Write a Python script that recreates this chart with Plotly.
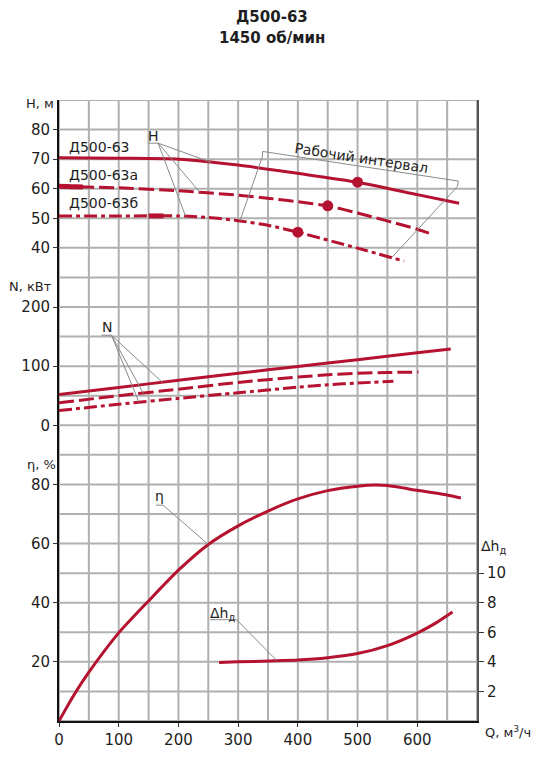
import numpy as np
import plotly.graph_objects as go

# ---------------- data ----------------
Q_H1 = [0, 100, 200, 300, 400, 500, 600, 670]
H1 = [70.5, 70.3, 70.0, 68.0, 65.2, 62.2, 58.0, 55.1]
Q_H2 = [0, 100, 200, 300, 353, 400, 450, 500, 600, 626]
H2 = [60.8, 60.3, 59.3, 57.8, 56.7, 55.6, 54.2, 51.8, 46.3, 44.5]
Q_H3 = [0, 100, 200, 250, 300, 353, 400, 500, 578]
H3 = [50.8, 50.8, 50.8, 50.3, 49.2, 47.5, 45.3, 39.9, 35.5]
Q_PT = [500, 450, 400]
H_PT = [62.2, 54.2, 45.3]

Q_N1 = [0, 100, 200, 300, 400, 500, 600, 656]
N1 = [52, 64, 76, 88, 99.5, 111, 122.5, 129]
Q_N2 = [0, 100, 200, 300, 400, 450, 500, 550, 602]
N2 = [38, 50, 61, 72.5, 81.5, 85.5, 88, 89.3, 90]
Q_N3 = [0, 100, 200, 300, 400, 450, 500, 560]
N3 = [25, 35.5, 45.5, 55, 64.5, 68.5, 71.5, 74.3]

Q_ETA = [0, 25, 50, 100, 150, 200, 250, 300, 350, 400, 450, 500, 530, 550, 600, 650, 673]
ETA = [0, 8.8, 16.5, 29.8, 40.6, 51, 59.7, 66, 71, 75.1, 77.9, 79.4, 79.8, 79.6, 78.0, 76.4, 75.4]

Q_DH = [268, 300, 353, 400, 450, 500, 550, 600, 630, 659]
DH = [3.95, 4.0, 4.06, 4.12, 4.28, 4.56, 5.1, 5.95, 6.6, 7.37]

X_TICKS = [0, 100, 200, 300, 400, 500, 600]
H_TICKS = [40, 50, 60, 70, 80]
N_TICKS = [0, 100, 200]
ETA_TICKS = [20, 40, 60, 80]
DH_TICKS = [2, 4, 6, 8, 10]

NAMES = ["Д500-63", "Д500-63а", "Д500-63б"]
TITLE_LINES = ["Д500-63", "1450 об/мин"]

# grid spacing of the chart paper (x in m3/h, y in eta-% units)
GRID_X = list(range(0, 701, 50))
GRID_Y = list(range(0, 211, 10))

# ---------------- styles ----------------
RED = "#b51230"
GRID = "#b0b0b0"
TXT = "#1e1e1e"
FONT = "DejaVu Sans"
LW = 3
DASH_A = "15px,5px"
DASH_B = "13px,4px,4px,4px"

fig = go.Figure()

# chart-paper grid on the base axes (drawn first, beneath everything)
gx, gy = [], []
for v in GRID_X:
    gx += [v, v, None]
    gy += [GRID_Y[0], GRID_Y[-1], None]
for v in GRID_Y:
    gx += [GRID_X[0], GRID_X[-1], None]
    gy += [v, v, None]
fig.add_trace(go.Scatter(x=gx, y=gy, xaxis="x", yaxis="y", mode="lines",
                         line=dict(color=GRID, width=2), hoverinfo="skip", showlegend=False))
fig.add_trace(go.Scatter(x=[0, 700], y=[0, 210], xaxis="x2", yaxis="y", mode="markers",
                         marker=dict(opacity=0), hoverinfo="skip", showlegend=False))

def line(x, y, yaxis, dash="solid", width=LW):
    fig.add_trace(go.Scatter(x=x, y=y, yaxis=yaxis, mode="lines",
                             line=dict(color=RED, width=width, dash=dash, shape="spline", smoothing=0.6),
                             hoverinfo="skip", showlegend=False))

# efficiency
line(Q_ETA, ETA, "y5")
# H curves
line(Q_H1, H1, "y2")
line(Q_H2, H2, "y2", DASH_A)
line(Q_H3, H3, "y2", DASH_B)
qa = np.linspace(0, 40, 5)
line(qa, np.interp(qa, Q_H2, H2), "y2", "solid", 5)
qb = np.linspace(150, 175, 4)
line(qb, np.interp(qb, Q_H3, H3), "y2", "solid", 5)
fig.add_trace(go.Scatter(x=Q_PT, y=H_PT, yaxis="y2", mode="markers",
                         marker=dict(color=RED, size=11), hoverinfo="skip", showlegend=False))
# N curves
line(Q_N1, N1, "y3")
line(Q_N2, N2, "y3", DASH_A)
line(Q_N3, N3, "y3", DASH_B)
# NPSH
line(Q_DH, DH, "y4")

# ---------------- leaders ----------------
shapes = []
def seg(x0, y0, x1, y1, yref):
    shapes.append(dict(type="line", xref="x", yref=yref, x0=x0, y0=y0, x1=x1, y1=y1,
                       line=dict(color="#8a8a8a", width=1), layer="above"))

for q, qs, hs in [(255, Q_H1, H1), (236, Q_H2, H2), (212, Q_H3, H3)]:
    seg(166, 75.4, q, float(np.interp(q, qs, hs)), "y2")
seg(149, 75.4, 166, 75.4, "y2")
seg(341, 72.6, 668.7, 62.6, "y2")
seg(341, 72.6, 340.5, 70.8, "y2")
seg(668.7, 62.6, 667.5, 60.8, "y2")
seg(340.5, 70.8, 303, float(np.interp(303, Q_H3, H3)), "y2")
seg(667.5, 60.8, 557, float(np.interp(557, Q_H3, H3)), "y2")
for q, qs, ns in [(173, Q_N1, N1), (141, Q_N2, N2), (134, Q_N3, N3)]:
    seg(87.8, 152.3, q, float(np.interp(q, qs, ns)), "y3")
seg(71, 152.3, 87.8, 152.3, "y3")
seg(174.3, 73, 250, float(np.interp(250, Q_ETA, ETA)), "y5")
seg(162, 73, 174.3, 73, "y5")
seg(297.3, 6.85, 365, float(np.interp(365, Q_DH, DH)), "y4")
seg(253, 6.85, 297.3, 6.85, "y4")

# ---------------- annotations ----------------
ann = []
def txt(x, y, text, yref, size=14, xanchor="center", angle=0, xref="x", weight="normal"):
    ann.append(dict(x=x, y=y, xref=xref, yref=yref, text=text, showarrow=False,
                    xanchor=xanchor, yanchor="middle", textangle=angle,
                    font=dict(family=FONT, size=size, color=TXT, weight=weight)))

txt(0.5084, 1.134, TITLE_LINES[0], "paper", 15, xref="paper", weight="bold")
txt(0.5084, 1.1005, TITLE_LINES[1], "paper", 15, xref="paper", weight="bold")

txt(14, 73.95, NAMES[0], "y2", 14, "left")
txt(14, 64.5, NAMES[1], "y2", 14, "left")
txt(14, 55.1, NAMES[2], "y2", 14, "left")
txt(158.7, 77.8, "H", "y2", 14)
txt(506.5, 70.4, "Рабочий интервал", "y2", 14, angle=8.7)
txt(79.9, 165.5, "N", "y3", 14)
txt(169, 76, "η", "y5", 14)
txt(274, 7.25, "Δh<sub>д</sub>", "y4", 14)

txt(-0.045, 0.9936, "H, м", "paper", 13, xref="paper")
txt(-0.067, 0.7002, "N, кВт", "paper", 13, xref="paper")
txt(-0.041, 0.413, "η, %", "paper", 13, xref="paper")
txt(1.04, 0.2807, "Δh<sub>д</sub>", "paper", 14, xref="paper")
txt(1.075, -0.0175, "Q, м<sup>3</sup>/ч", "paper", 13, xref="paper")

tickfont = dict(family=FONT, size=15, color=TXT)
lab = dict(ticks="outside", ticklen=5, tickcolor="#333", tickwidth=1,
           tickfont=tickfont, zeroline=False, fixedrange=True, showgrid=False)

fig.update_layout(
    width=543, height=761,
    margin=dict(l=59, r=66, t=100, b=34),
    paper_bgcolor="white", plot_bgcolor="rgba(0,0,0,0)",
    xaxis=dict(range=[0, 700], showticklabels=False, ticks="", showgrid=False,
               showline=True, linecolor="#111", linewidth=2, zeroline=False, fixedrange=True),
    yaxis=dict(range=[0, 210], showticklabels=False, ticks="", showgrid=False,
               showline=True, linecolor="#111", linewidth=2, zeroline=False, fixedrange=True),
    xaxis2=dict(range=[0, 700], tickmode="array", tickvals=X_TICKS, overlaying="x",
                side="bottom", anchor="y", showline=False, **lab),
    yaxis2=dict(range=[-120, 90], tickmode="array", tickvals=H_TICKS, overlaying="y",
                side="left", anchor="x", showline=False, **lab),
    yaxis3=dict(range=[-500, 550], tickmode="array", tickvals=N_TICKS, overlaying="y",
                side="left", anchor="x", showline=False, **lab),
    yaxis4=dict(range=[0, 42], tickmode="array", tickvals=DH_TICKS, overlaying="y",
                side="right", anchor="x", showline=True, linecolor="#555", linewidth=2, **lab),
    yaxis5=dict(range=[0, 210], tickmode="array", tickvals=ETA_TICKS, overlaying="y",
                side="left", anchor="x", showline=False, **lab),
    shapes=shapes,
    annotations=ann,
)

fig.write_html("out.html")
